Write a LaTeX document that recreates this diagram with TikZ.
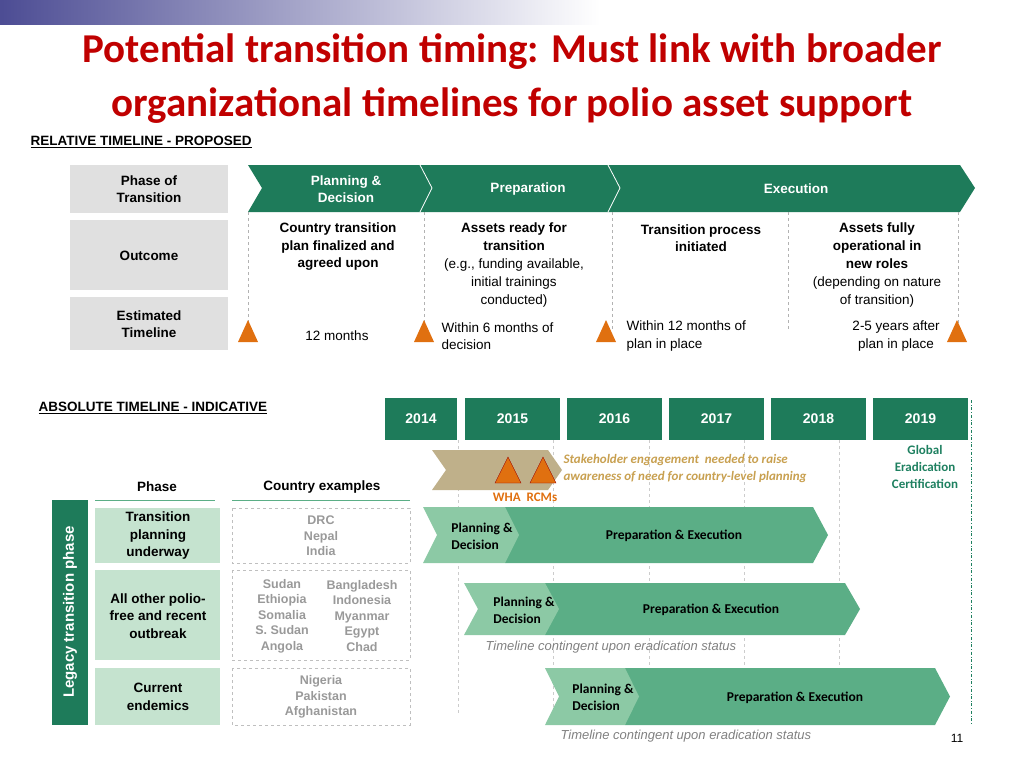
\documentclass[tikz,border=0pt]{standalone}
\usepackage{fontspec}
\setmainfont{Liberation Sans}
\newfontfamily\carl{Carlito}
\usetikzlibrary{shadings}
\definecolor{dg}{HTML}{1E7B5A}
\definecolor{lg}{HTML}{8CC9A5}
\definecolor{mg}{HTML}{5BAE86}
\definecolor{pg}{HTML}{C5E3CF}
\definecolor{gy}{HTML}{E0E0E0}
\definecolor{tr}{HTML}{C00000}
\definecolor{org}{HTML}{E07010}
\definecolor{tanc}{HTML}{BFB08A}
\definecolor{tant}{HTML}{C8A050}
\definecolor{tealc}{HTML}{1E8060}
\tikzset{
 t/.style={font=\fontsize{13.5}{17.5}\selectfont\bfseries,align=center},
 n/.style={font=\fontsize{13.5}{17.5}\selectfont,align=center},
 gbox/.style={fill=gy,draw=none},
 tri/.style={fill=org,draw=none},
 vd/.style={draw=gray!60,dashed},
 yr/.style={fill=dg,text=white,font=\fontsize{14}{16}\selectfont\bfseries,minimum height=42pt,inner sep=0},
 pbox/.style={fill=pg,draw=none},
 cbox/.style={draw=gray!50,dashed},
 ct/.style={font=\fontsize{12.5}{15.5}\selectfont\bfseries,text=gray!80,align=center},
 ch/.style={font=\carl\fontsize{13.5}{17}\selectfont\bfseries,align=left},
 it/.style={font=\fontsize{13}{15}\selectfont\itshape,text=gray},
}
\begin{document}
\begin{tikzpicture}[x=1pt,y=-1pt]
\useasboundingbox (0,0) rectangle (1024,768);
\shade[left color=blue!40!black!70,right color=white] (0,0) rectangle (600,25);
\node[font=\carl\fontsize{41}{46}\selectfont\bfseries,text=tr] (t1) at (512,52) {Potential transition timing: Must link with broader};
\node[font=\carl\fontsize{41}{46}\selectfont\bfseries,text=tr] (t2) at (512,106) {organizational timelines for polio asset support};
\node[anchor=west,font=\fontsize{13.5}{16}\selectfont\bfseries] (rel) at (27,142) {\underline{RELATIVE TIMELINE - PROPOSED}};
\fill[gbox] (70,165) rectangle (228,213); \node[t] (p1) at (149,189) {Phase of\\Transition};
\fill[gbox] (70,220) rectangle (228,290); \node[t] (p2) at (149,256) {Outcome};
\fill[gbox] (70,297) rectangle (228,350); \node[t] (p3) at (149,324) {Estimated\\Timeline};
\fill[dg] (248,165) -- (960,165) -- (975,188) -- (960,212) -- (248,212) -- (262,188) -- cycle;
\draw[white,thick] (420,165) -- (432,188) -- (420,212);
\draw[white,thick] (608,165) -- (620,188) -- (608,212);
\node[t,text=white] (c1) at (346,189) {Planning \&\\Decision};
\node[t,text=white] (c2) at (528,189) {Preparation};
\node[t,text=white] (c3) at (796,189) {Execution};
\foreach \x in {248,424,612,788,958} \draw[vd] (\x,212) -- (\x,330);
\foreach \x in {248,424,606,957} \fill[tri] (\x-10,342) -- (\x,320) -- (\x+10,342) -- cycle;
\node[t] (o1) at (338,247) {Country transition\\plan finalized and\\agreed upon};
\node[n,font=\fontsize{13.5}{18}\selectfont] (o2) at (514,265) {\textbf{Assets ready for}\\\textbf{transition}\\(e.g., funding available,\\initial trainings\\conducted)};
\node[t] (o3) at (701,238) {Transition process\\initiated};
\node[n,font=\fontsize{13.5}{18}\selectfont] (o4) at (877,265) {\textbf{Assets fully}\\\textbf{operational in}\\\textbf{new roles}\\(depending on nature\\of transition)};
\node[n] (e1) at (337,336) {12 months};
\node[n,align=left,anchor=west] (e2) at (438,336) {Within 6 months of\\decision};
\node[n,align=left,anchor=west] (e3) at (623,336) {Within 12 months of\\plan in place};
\node[n] (e4) at (896,336) {2-5 years after\\plan in place};
\node[anchor=west,font=\fontsize{13.5}{16}\selectfont\bfseries] (abs) at (35,408) {\underline{ABSOLUTE TIMELINE - INDICATIVE}};
\foreach \a/\b/\y in {385/457/2014,465/560/2015,567/662/2016,669/764/2017,771/866/2018,873/968/2019}
  \node[yr,minimum width={(\b-\a)*1pt}] (y\y) at ({(\a+\b)/2},419) {\y};
\foreach \x in {458,553,649,744,839} \draw[vd,gray!40] (\x,440) -- (\x,715);
\draw[tealc,dash dot,thick] (971,400) -- (971,725);
\node[font=\carl\fontsize{13}{17}\selectfont\bfseries,text=tealc,align=center] (gec) at (925,467) {Global\\Eradication\\Certification};
\fill[tanc] (432,450) -- (548,450) -- (562,470) -- (548,490) -- (432,490) -- (446,470) -- cycle;
\foreach \x in {508,543} \fill[tri,draw=red!60!black,thin] (\x-13,483) -- (\x,457) -- (\x+13,483) -- cycle;
\node[font=\carl\fontsize{13}{15}\selectfont\bfseries,text=org] (wha) at (525,497) {WHA\ \ RCMs};
\node[anchor=west,font=\carl\fontsize{13}{17}\selectfont\bfseries\itshape,text=tant,align=left] (stk) at (560,469) {Stakeholder engagement\ \ needed to raise\\awareness of need for country-level planning};
\node[t] (hph) at (157,487) {Phase};
\node[t] (hce) at (322,487) {Country examples};
\draw[mg,thick] (95,500) -- (215,500); \draw[mg,thick] (232,500) -- (410,500);
\fill[dg] (52,500) rectangle (88,725);
\node[rotate=90,text=white,font=\fontsize{15}{17}\selectfont\bfseries] (leg) at (70,612) {Legacy transition phase};
\fill[pbox] (95,508) rectangle (220,563); \node[t] (ph1) at (158,536) {Transition\\planning\\underway};
\fill[pbox] (95,570) rectangle (220,660); \node[t] (ph2) at (158,616) {All other polio-\\free and recent\\outbreak};
\fill[pbox] (95,668) rectangle (220,725); \node[t] (ph3) at (158,697) {Current\\endemics};
\draw[cbox] (232,508) rectangle (410,563); \node[ct] (ce1) at (321,536) {DRC\\Nepal\\India};
\draw[cbox] (232,570) rectangle (410,660); \node[ct] (ce2a) at (282,616) {Sudan\\Ethiopia\\Somalia\\S. Sudan\\Angola};
\node[ct] (ce2b) at (362,616) {Bangladesh\\Indonesia\\Myanmar\\Egypt\\Chad};
\draw[cbox] (232,668) rectangle (410,725); \node[ct] (ce3) at (321,697) {Nigeria\\Pakistan\\Afghanistan};
\foreach \s/\m/\e/\a/\b in {423/505/828/507/563,464/545/860/583/635,545/625/950/668/725}{
  \fill[mg] (\m,\a) -- (\e-15,\a) -- (\e,{(\a+\b)/2}) -- (\e-15,\b) -- (\m,\b) -- cycle;
  \fill[lg] (\s,\a) -- (\m,\a) -- (\m+14,{(\a+\b)/2}) -- (\m,\b) -- (\s,\b) -- (\s+14,{(\a+\b)/2}) -- cycle;
}
\node[ch] (pd1) at (482,536) {Planning \&\\Decision};
\node[ch] (pe1) at (674,536) {Preparation \& Execution};
\node[ch] (pd2) at (524,610) {Planning \&\\Decision};
\node[ch] (pe2) at (711,610) {Preparation \& Execution};
\node[ch] (pd3) at (603,697) {Planning \&\\Decision};
\node[ch] (pe3) at (795,698) {Preparation \& Execution};
\node[it,anchor=west] (tc1) at (482,647) {Timeline contingent upon eradication status};
\node[it,anchor=west] (tc2) at (557,736) {Timeline contingent upon eradication status};
\node[font=\fontsize{12}{14}\selectfont] (pgn) at (957,738) {11};
\end{tikzpicture}
\end{document}
